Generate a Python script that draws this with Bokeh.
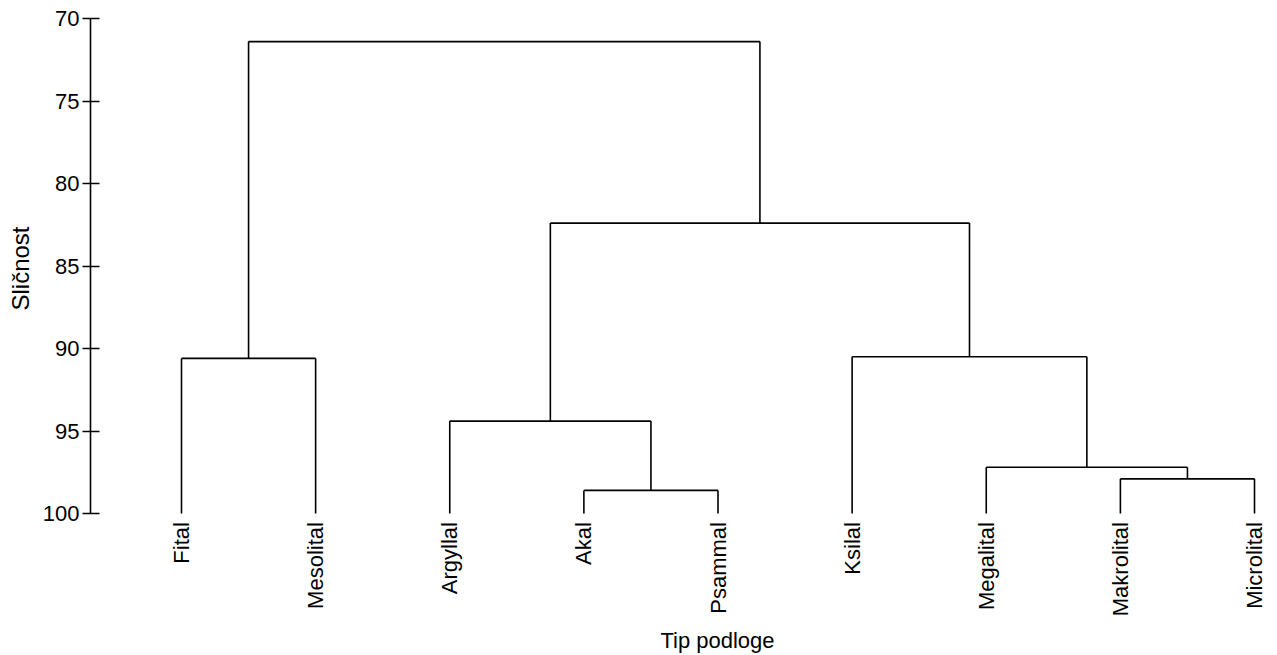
import math
from bokeh.plotting import figure
from bokeh.models import Range1d, FixedTicker, ColumnDataSource, Title
from bokeh.core.properties import value
from bokeh.embed import file_html
from bokeh.resources import INLINE

# ---- data ----
leaf_labels = ["Fital", "Mesolital", "Argyllal", "Akal", "Psammal",
               "Ksilal", "Megalital", "Makrolital", "Microlital"]
leaf_height = 100.0
# merges (R hclust style): negative = leaf index (1-based), positive = earlier merge
merge_left = [-4, -8, -7, -3, -1, -6, 4, 5]
merge_right = [-5, -9, 2, 1, -2, 3, 6, 7]
merge_height = [98.6, 97.9, 97.2, 94.4, 90.6, 90.5, 82.4, 71.4]
y_ticks = [70, 75, 80, 85, 90, 95, 100]
x_title = "Tip podloge"
y_title = "Sličnost"

FONT = "Liberation Sans"

# ---- compute dendrogram segments from merge data ----
leaf_x = list(range(1, len(leaf_labels) + 1))
node_x = {}
node_h = {}


def pos(i):
    if i < 0:
        return leaf_x[-i - 1], leaf_height
    return node_x[i], node_h[i]


x0s, y0s, x1s, y1s = [], [], [], []
for k, (a, b, h) in enumerate(zip(merge_left, merge_right, merge_height), start=1):
    xa, ha = pos(a)
    xb, hb = pos(b)
    x0s.append(xa); y0s.append(h); x1s.append(xb); y1s.append(h)
    x0s.append(xa); y0s.append(h); x1s.append(xa); y1s.append(ha)
    x0s.append(xb); y0s.append(h); x1s.append(xb); y1s.append(hb)
    node_x[k] = (xa + xb) / 2.0
    node_h[k] = h

p = figure(width=1277, height=655, output_backend="svg", toolbar_location=None,
           x_range=Range1d(0.32153, 9.1714), y_range=Range1d(108.606, 68.9091),
           min_border_left=90, min_border_right=0, min_border_top=0,
           min_border_bottom=0, x_axis_location=None)
p.outline_line_color = None
p.xgrid.visible = False
p.ygrid.visible = False
p.background_fill_color = "white"
p.border_fill_color = "white"

p.segment(x0=x0s, y0=y0s, x1=x1s, y1=y1s, line_color="black", line_width=1.6)

# leaf labels
src = ColumnDataSource(dict(x=leaf_x, y=[leaf_height + 0.52] * len(leaf_x), t=leaf_labels))
p.text(x="x", y="y", text="t", source=src, angle=math.pi / 2,
       text_align="right", text_baseline="middle",
       text_font=value(FONT), text_font_size="22px", text_color="black")

# x title
p.text(x=[4.996], y=[107.7], text=[x_title], text_align="center", text_baseline="middle",
       text_font=value(FONT), text_font_size="22px", text_color="black")

yax = p.yaxis[0]
yax.ticker = FixedTicker(ticks=y_ticks)
yax.bounds = (70, 100)
yax.axis_line_color = "black"
yax.axis_line_width = 1.6
yax.major_tick_line_color = "black"
yax.major_tick_line_width = 1.6
yax.major_tick_in = 9
yax.major_tick_out = 8
yax.minor_tick_line_color = None
yax.major_label_standoff = 3
yax.major_label_text_font = FONT
yax.major_label_text_font_size = "22px"
yax.major_label_text_color = "black"

p.add_layout(Title(text=y_title, align="right", offset=226, vertical_align="middle",
                   text_font=FONT, text_font_size="24px", text_font_style="normal",
                   text_color="black"), "left")

open("out.html", "w").write(file_html(p, INLINE))
